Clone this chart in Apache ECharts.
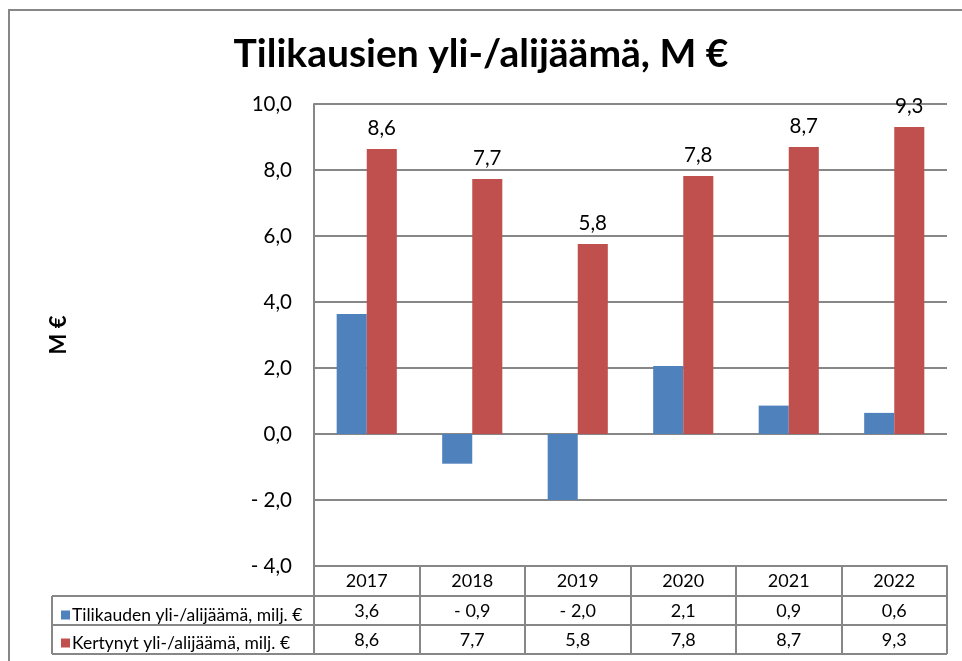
<!DOCTYPE html>
<html>
<head>
<meta charset="utf-8">
<script src="https://cdn.jsdelivr.net/npm/echarts@6/dist/echarts.min.js"></script>
<style>html,body{margin:0;padding:0;background:#fff}#c{width:962px;height:661px}</style>
</head>
<body>
<div id="c"></div>
<script>
const years = ['2017','2018','2019','2020','2021','2022'];
const tilikausi = [3.64, -0.9, -2.0, 2.06, 0.86, 0.64];
const kertynyt = [8.64, 7.73, 5.76, 7.82, 8.7, 9.3];
const seriesNames = ['Tilikauden yli-/alijäämä, milj. €', 'Kertynyt yli-/alijäämä, milj. €'];
const titleText = 'Tilikausien yli-/alijäämä, M €';
const yName = 'M €';

const FONT = 'Lato, "Open Sans", sans-serif';
const GRAY = '#878787';
function fmt(v) {
  const s = Math.abs(v).toFixed(1).replace('.', ',');
  return v < -1e-9 ? '- ' + s : s;
}

const chart = echarts.init(document.getElementById('c'));
const option = {
  animation: false,
  backgroundColor: '#fff',
  textStyle: { fontFamily: FONT },
  title: {
    text: titleText, left: 'center', top: 30,
    textStyle: { fontFamily: FONT, fontWeight: 'bold', fontSize: 39, color: '#000' }
  },
  legend: {
    orient: 'vertical', left: 56, top: 601, itemGap: 10,
    itemWidth: 9, itemHeight: 9, icon: 'rect',
    textStyle: { fontFamily: FONT, fontSize: 17.5, color: '#000', padding: [0, 0, 0, -3] },
    data: seriesNames
  },
  grid: { left: 314, right: 15, top: 104, bottom: 95, containLabel: false },
  xAxis: [
    {
      type: 'category', data: years, position: 'bottom',
      axisLine: { onZero: false, lineStyle: { color: GRAY, width: 2 } },
      axisTick: { show: true, length: 88, interval: 0, lineStyle: { color: GRAY, width: 2 } },
      axisLabel: { margin: 6, fontSize: 18, color: '#000', fontFamily: FONT, interval: 0 }
    },
    {
      type: 'category', data: years, position: 'bottom', offset: 30,
      axisLine: { show: false }, axisTick: { show: false },
      axisLabel: { margin: 6, fontSize: 18, color: '#000', fontFamily: FONT, interval: 0,
        formatter: (v, i) => fmt(tilikausi[i]) }
    },
    {
      type: 'category', data: years, position: 'bottom', offset: 59,
      axisLine: { show: false }, axisTick: { show: false },
      axisLabel: { margin: 6, fontSize: 18, color: '#000', fontFamily: FONT, interval: 0,
        formatter: (v, i) => fmt(kertynyt[i]) }
    }
  ],
  yAxis: {
    type: 'value', min: -4, max: 10, interval: 2,
    name: yName, nameLocation: 'middle', nameGap: 244, nameRotate: 90,
    nameTextStyle: { fontFamily: FONT, fontWeight: 'bold', fontSize: 22, color: '#000' },
    axisLine: { show: true, lineStyle: { color: GRAY, width: 2 } },
    axisTick: { show: false },
    splitLine: { lineStyle: { color: GRAY, width: 2 } },
    axisLabel: { margin: 22, fontSize: 20.5, color: '#000', fontFamily: FONT, formatter: v => fmt(v) }
  },
  series: [
    {
      name: seriesNames[0], type: 'bar', data: tilikausi, xAxisIndex: 0,
      barGap: '0%', barCategoryGap: '43%',
      itemStyle: { color: '#4F81BD' }
    },
    {
      name: seriesNames[1], type: 'bar', data: kertynyt, xAxisIndex: 0,
      barGap: '0%', barCategoryGap: '43%',
      itemStyle: { color: '#C0504D' },
      label: { show: true, position: 'top', distance: 10, fontSize: 20.5, color: '#000', fontFamily: FONT,
        formatter: p => fmt(p.value) }
    }
  ],
  graphic: [
    { type: 'rect', shape: { x: 9, y: 10, width: 960, height: 660 }, style: { fill: null, stroke: GRAY, lineWidth: 2 }, silent: true },
    { type: 'line', shape: { x1: 52, y1: 596, x2: 947, y2: 596 }, style: { stroke: GRAY, lineWidth: 2 } },
    { type: 'line', shape: { x1: 52, y1: 625, x2: 947, y2: 625 }, style: { stroke: GRAY, lineWidth: 2 } },
    { type: 'line', shape: { x1: 52, y1: 654, x2: 947, y2: 654 }, style: { stroke: GRAY, lineWidth: 2 } },
    { type: 'line', shape: { x1: 52, y1: 596, x2: 52, y2: 654 }, style: { stroke: GRAY, lineWidth: 2 } }
  ]
};
chart.setOption(option);
</script>
</body>
</html>
